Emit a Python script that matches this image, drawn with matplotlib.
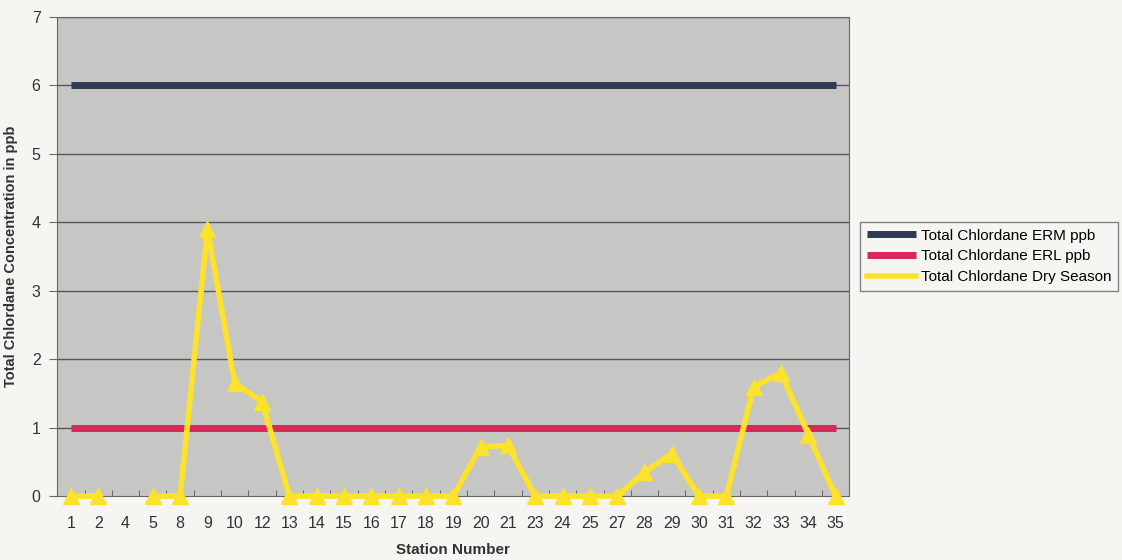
import numpy as np
import matplotlib.pyplot as plt

plt.rcParams['font.family'] = ['Liberation Sans', 'DejaVu Sans']

# Station labels and measured values
stations = ['1', '2', '4', '5', '8', '9', '10', '12', '13', '14', '15', '16', '17', '18', '19',
            '20', '21', '23', '24', '25', '27', '28', '29', '30', '31', '32', '33', '34', '35']
dry_season = [0, 0, np.nan, 0, 0, 3.9, 1.65, 1.38, 0, 0, 0, 0, 0, 0, 0,
              0.72, 0.74, 0, 0, 0, 0, 0.35, 0.62, 0, 0, 1.6, 1.8, 0.9, 0]
erm = [6] * len(stations)
erl = [1] * len(stations)

x = np.arange(len(stations))

fig = plt.figure(figsize=(11.22, 5.6), dpi=100)
fig.patch.set_facecolor('#f6f5f1')
ax = fig.add_axes([0.051, 0.114, 0.706, 0.856])
ax.set_facecolor('#c6c6c4')

for y in range(1, 8):
    ax.axhline(y, color='#55585a', lw=1.0, zorder=1)

ax.plot(x, erm, color='#2e3b52', lw=5, solid_capstyle='butt', label='Total Chlordane ERM ppb', zorder=3)
ax.plot(x, erl, color='#d9275a', lw=5, solid_capstyle='butt', label='Total Chlordane ERL ppb', zorder=3)
ax.plot(x, dry_season, color='#fde22c', lw=4, marker='^', markersize=11, clip_on=False,
        label='Total Chlordane Dry Season', zorder=4)

ax.set_xlim(-0.5, len(stations) - 0.5)
ax.set_ylim(0, 7)
ax.set_yticks(range(0, 8))
ax.set_xticks(x)
ax.set_xticklabels(stations)
ax.set_xticks(np.arange(-0.5, len(stations), 1), minor=True)
ax.tick_params(axis='x', which='major', length=0, labelsize=11.5, colors='#333333', pad=14)
ax.tick_params(axis='x', which='minor', length=4, direction='in', color='#555555')
ax.tick_params(axis='y', length=6, labelsize=11.5, colors='#333333', color='#666666', pad=6)
for s in ax.spines.values():
    s.set_color('#666666')

ax.set_xlabel('Station Number', fontsize=11, fontweight='bold', color='#333333', labelpad=9)
ax.set_ylabel('Total Chlordane Concentration in ppb', fontsize=10.5, fontweight='bold', color='#333333', labelpad=10)

leg = ax.legend(loc='center left', bbox_to_anchor=(1.004, 0.5), frameon=True, fancybox=False,
                fontsize=11, handlelength=3.2, edgecolor='#666666', borderpad=0.45, labelspacing=0.45,
                handletextpad=0.3)
leg.get_frame().set_facecolor('#f6f5f1')
for h in leg.get_lines():
    h.set_marker('')

plt.savefig('out.png', dpi=100, facecolor=fig.get_facecolor())
